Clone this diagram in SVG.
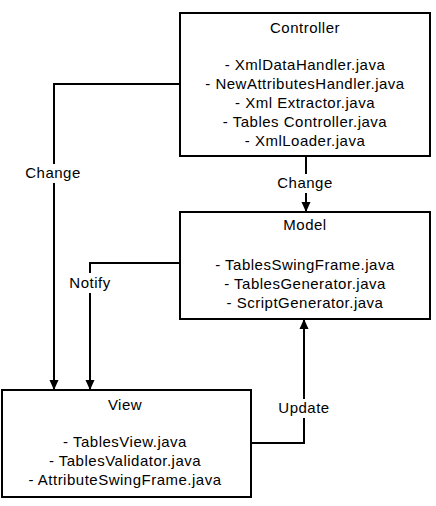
<svg xmlns="http://www.w3.org/2000/svg" width="436" height="506" viewBox="0 0 436 506">
<style>
.box{fill:#fff;stroke:#000;stroke-width:2}
.ln{fill:none;stroke:#000;stroke-width:2}
text{font-family:"Liberation Sans",Arial,sans-serif;font-size:15px;letter-spacing:0.5px;fill:#000;text-anchor:middle}
.bg{fill:#fff;stroke:none}
</style>
<defs>
<marker id="ah" markerUnits="userSpaceOnUse" markerWidth="10" markerHeight="10" viewBox="0 0 10 10" refX="10" refY="5" orient="auto">
<path d="M0,0.5 L10,5 L0,9.5 Z" fill="#000"/>
</marker>
</defs>
<rect width="436" height="506" fill="#fff"/>
<g id="connectors">
<polyline class="ln" points="306,156 306,212" marker-end="url(#ah)"/>
<polyline class="ln" points="180,84 54,84 54,390" marker-end="url(#ah)"/>
<polyline class="ln" points="180,263 90,263 90,390" marker-end="url(#ah)"/>
<polyline class="ln" points="251,443 304,443 304,319" marker-end="url(#ah)"/>
<rect class="bg" x="276" y="174" width="58" height="19"/>
<text x="305" y="188">Change</text>
<rect class="bg" x="24" y="164" width="60" height="19"/>
<text x="53" y="178">Change</text>
<rect class="bg" x="67" y="273" width="46" height="20"/>
<text x="90" y="288">Notify</text>
<rect class="bg" x="277" y="399" width="54" height="19"/>
<text x="304" y="413">Update</text>
</g>
<g id="controller">
<rect class="box" x="180" y="13" width="250" height="143"/>
<text x="305" y="33">Controller</text>
<text x="305" y="70">- XmlDataHandler.java</text>
<text x="305" y="89">- NewAttributesHandler.java</text>
<text x="305" y="108">- Xml Extractor.java</text>
<text x="305" y="127">- Tables Controller.java</text>
<text x="305" y="146">- XmlLoader.java</text>
</g>
<g id="model">
<rect class="box" x="180" y="212" width="250" height="107"/>
<text x="305" y="230">Model</text>
<text x="305" y="270">- TablesSwingFrame.java</text>
<text x="305" y="289">- TablesGenerator.java</text>
<text x="305" y="308">- ScriptGenerator.java</text>
</g>
<g id="view">
<rect class="box" x="2" y="390" width="249" height="107"/>
<text x="125" y="410">View</text>
<text x="125" y="447">- TablesView.java</text>
<text x="125" y="466">- TablesValidator.java</text>
<text x="125" y="485">- AttributeSwingFrame.java</text>
</g>
</svg>
